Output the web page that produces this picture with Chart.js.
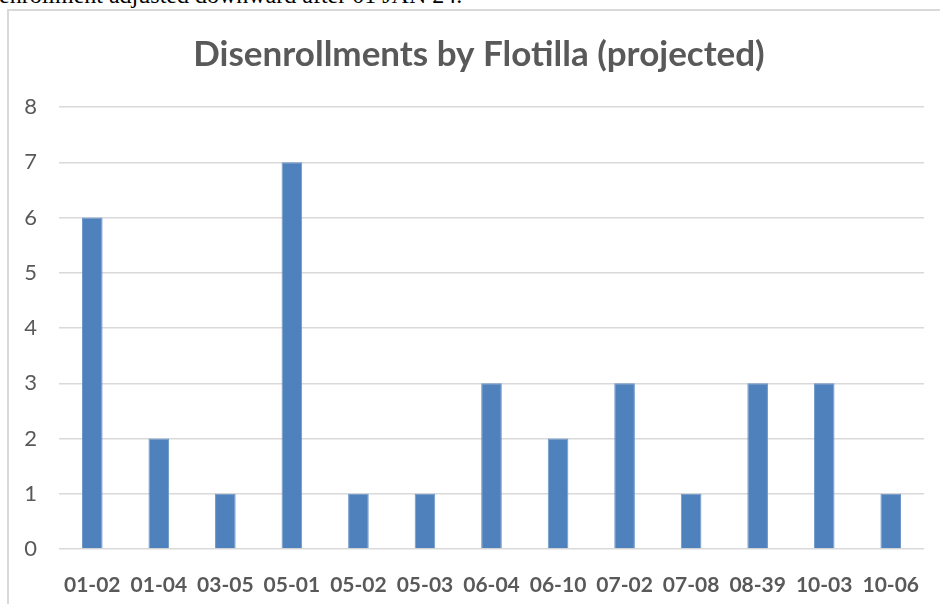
<!DOCTYPE html>
<html lang="en">
<head>
<meta charset="UTF-8">
<title>Disenrollments by Flotilla</title>
<script src="https://cdn.jsdelivr.net/npm/chart.js@4.4.1/dist/chart.umd.min.js"></script>
<style>
    html, body {
        margin: 0;
        padding: 0;
        background: #fff;
        width: 940px;
        height: 604px;
        overflow: hidden;
    }
    #topline {
        position: absolute;
        left: -1px;
        top: -18px;
        font-family: "Liberation Serif", "Times New Roman", serif;
        font-size: 24px;
        color: #000;
        white-space: nowrap;
    }
    #frame {
        position: absolute;
        left: 7px;
        top: 9px;
        width: 940px;
        height: 600px;
        border-left: 2px solid #d9d9d9;
        border-top: 2px solid #d9d9d9;
    }
    /* um pouco mais largo que a janela: o título fica centrado como no original */
    #wrap {
        position: absolute;
        left: 0;
        top: 0;
        width: 958px;
        height: 604px;
    }
</style>
</head>
<body>
<div id="topline">enrollment adjusted downward after 01 JAN 24.</div>
<div id="frame"></div>
<div id="wrap"><canvas id="grafico"></canvas></div>

<script>
    // dados
    const flotillas = ['01-02', '01-04', '03-05', '05-01', '05-02', '05-03', '06-04',
                       '06-10', '07-02', '07-08', '08-39', '10-03', '10-06'];
    const disenrollments = [6, 2, 1, 7, 1, 1, 3, 2, 3, 1, 3, 3, 1];
    const yTicks = [0, 1, 2, 3, 4, 5, 6, 7, 8];

    const cinza = '#595959';

    const ctx = document.getElementById('grafico').getContext('2d');
    const grafico = new Chart(ctx, {
        type: 'bar',
        data: {
            labels: flotillas,
            datasets: [{
                label: 'Disenrollments',
                data: disenrollments,
                backgroundColor: '#4F81BD',
                borderColor: '#6a95c9',
                borderWidth: 1,
                barPercentage: 0.31,
                categoryPercentage: 1.0
            }]
        },
        options: {
            responsive: true,
            maintainAspectRatio: false,
            animation: false,
            layout: {
                padding: 0
            },
            plugins: {
                legend: { display: false },
                tooltip: { enabled: false },
                title: {
                    display: true,
                    text: 'Disenrollments by Flotilla (projected)',
                    color: cinza,
                    font: { family: 'Lato', size: 35, weight: 'bold', lineHeight: 1.2 },
                    padding: { top: 34, bottom: 31 }
                }
            },
            scales: {
                x: {
                    afterFit: function (scale) { scale.height = 55; },
                    grid: { display: false },
                    border: { display: false },
                    ticks: {
                        color: cinza,
                        font: { family: 'Lato', size: 21, weight: 'bold' },
                        padding: 16,
                        maxRotation: 0,
                        autoSkip: false
                    }
                },
                y: {
                    min: yTicks[0],
                    max: yTicks[yTicks.length - 1],
                    afterFit: function (scale) { scale.width = 59; },
                    afterBuildTicks: function (scale) {
                        scale.ticks = yTicks.map(v => ({ value: v }));
                    },
                    grid: {
                        color: '#d9d9d9',
                        lineWidth: 1.5,
                        drawTicks: false
                    },
                    border: { display: false },
                    ticks: {
                        color: cinza,
                        font: { family: 'Lato', size: 22 },
                        padding: 22
                    }
                },
                // eixo vazio à direita, só para reservar espaço
                yRight: {
                    position: 'right',
                    min: 0,
                    max: 8,
                    afterFit: function (scale) { scale.width = 34; },
                    grid: { display: false },
                    border: { display: false },
                    ticks: { display: false }
                }
            }
        }
    });
</script>
</body>
</html>
